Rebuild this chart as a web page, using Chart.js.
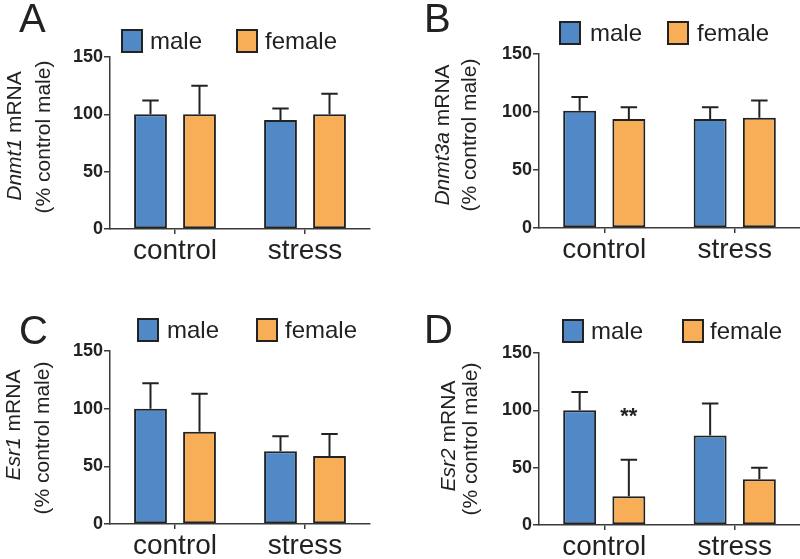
<!DOCTYPE html>
<html><head><meta charset="utf-8">
<script src="https://cdn.jsdelivr.net/npm/chart.js@4"></script>
<style>
body{margin:0;background:#fff;width:800px;height:559px;overflow:hidden;position:relative}
canvas{position:absolute}
</style></head><body>
<canvas id="cA" width="400" height="280" style="left:0;top:0"></canvas>
<canvas id="cB" width="400" height="280" style="left:400px;top:0"></canvas>
<canvas id="cC" width="400" height="279" style="left:0;top:280px"></canvas>
<canvas id="cD" width="400" height="279" style="left:400px;top:280px"></canvas>
<script>
// ---- data ----
const categories = ['control', 'stress'];
const seriesLabels = ['male', 'female'];
const yTicks = [0, 50, 100, 150];

const dnmt1Male = [100, 95];
const dnmt1Female = [100, 100];
const dnmt1MaleErr = [12, 10];
const dnmt1FemaleErr = [25, 18];

const dnmt3aMale = [101, 94];
const dnmt3aFemale = [94, 95];
const dnmt3aMaleErr = [12, 10];
const dnmt3aFemaleErr = [10, 15];

const esr1Male = [100, 63];
const esr1Female = [80, 59];
const esr1MaleErr = [22, 13];
const esr1FemaleErr = [33, 19];

const esr2Male = [100, 78];
const esr2Female = [25, 40];
const esr2MaleErr = [16, 28];
const esr2FemaleErr = [32, 10];

const esr2Stars = ['**', ''];   // annotation over female bars
const esr2StarValue = 98;

// ---- styles ----
const FONT = '"Liberation Sans", Arial, Helvetica, sans-serif';
const BLUE = '#5089c6';
const ORANGE = '#f8ad57';
const INK = '#222222';
const AXIS = '#3a3a3a';

const panels = [
  {id:'cA', letter:'A', gene:'Dnmt1', male:dnmt1Male, female:dnmt1Female, mErr:dnmt1MaleErr, fErr:dnmt1FemaleErr,
   area:{l:110, r:370, t:57, b:229}, letterPos:[19,32],
   title:{x1:15, y1:136, x2:44, y2:137},
   legend:{mBox:[122,30], mText:150, fBox:[237,30], fText:265}},
  {id:'cB', letter:'B', gene:'Dnmt3a', male:dnmt3aMale, female:dnmt3aFemale, mErr:dnmt3aMaleErr, fErr:dnmt3aFemaleErr,
   area:{l:139, r:400, t:54, b:228}, letterPos:[24,32],
   title:{x1:43, y1:135, x2:70, y2:135},
   legend:{mBox:[160,22], mText:190, fBox:[268,22], fText:297}},
  {id:'cC', letter:'C', gene:'Esr1', male:esr1Male, female:esr1Female, mErr:esr1MaleErr, fErr:esr1FemaleErr,
   area:{l:110, r:370, t:71, b:244}, letterPos:[19,64],
   title:{x1:14, y1:145, x2:43, y2:158},
   legend:{mBox:[138,39], mText:167, fBox:[257,39], fText:285}},
  {id:'cD', letter:'D', gene:'Esr2', male:esr2Male, female:esr2Female, mErr:esr2MaleErr, fErr:esr2FemaleErr,
   area:{l:139, r:400, t:73, b:245}, letterPos:[24,63],
   title:{x1:49, y1:156, x2:71, y2:159},
   legend:{mBox:[163,40], mText:191, fBox:[283,40], fText:310},
   stars:esr2Stars, starValue:esr2StarValue}
];

const decorPlugin = {
  id: 'decor',
  afterDatasetsDraw(chart, args, opts) {
    const ctx = chart.ctx;
    const y = chart.scales.y;
    // error bars
    ctx.save();
    ctx.strokeStyle = INK;
    ctx.lineWidth = 2;
    chart.data.datasets.forEach((ds, i) => {
      const meta = chart.getDatasetMeta(i);
      meta.data.forEach((bar, j) => {
        const top = y.getPixelForValue(ds.data[j] + ds.errors[j]);
        const half = bar.width / 4;
        ctx.beginPath();
        ctx.moveTo(bar.x, bar.y);
        ctx.lineTo(bar.x, top);
        ctx.moveTo(bar.x - half, top);
        ctx.lineTo(bar.x + half, top);
        ctx.stroke();
      });
    });
    // stars
    if (opts.stars) {
      const meta = chart.getDatasetMeta(1);
      ctx.fillStyle = INK;
      ctx.font = 'bold 22px ' + FONT;
      ctx.textAlign = 'center';
      ctx.textBaseline = 'middle';
      opts.stars.forEach((s, j) => {
        if (s) ctx.fillText(s, meta.data[j].x, y.getPixelForValue(opts.starValue) + 4);
      });
    }
    ctx.restore();
  },
  afterDraw(chart, args, opts) {
    const ctx = chart.ctx;
    ctx.save();
    // panel letter
    ctx.fillStyle = INK;
    ctx.font = '40px ' + FONT;
    ctx.textAlign = 'left';
    ctx.textBaseline = 'alphabetic';
    ctx.fillText(opts.letter, opts.letterPos[0], opts.letterPos[1]);
    // legend
    const lg = opts.legend;
    const ds = chart.data.datasets;
    [[lg.mBox, lg.mText, 0], [lg.fBox, lg.fText, 1]].forEach(([box, tx, i]) => {
      ctx.fillStyle = ds[i].backgroundColor;
      ctx.fillRect(box[0], box[1], 20, 22);
      ctx.strokeStyle = INK;
      ctx.lineWidth = 2;
      ctx.strokeRect(box[0], box[1], 20, 22);
      ctx.fillStyle = INK;
      ctx.font = '24px ' + FONT;
      ctx.textBaseline = 'middle';
      ctx.fillText(ds[i].label, tx, box[1] + 12);
    });
    // y-axis title
    const t = opts.title;
    ctx.fillStyle = INK;
    ctx.textBaseline = 'middle';
    ctx.textAlign = 'left';
    // line 1: italic gene + ' mRNA'
    ctx.save();
    ctx.translate(t.x1, t.y1);
    ctx.rotate(-Math.PI / 2);
    ctx.font = 'italic 21px ' + FONT;
    const w1 = ctx.measureText(opts.gene).width;
    ctx.font = '21px ' + FONT;
    const w2 = ctx.measureText(' mRNA').width;
    let x0 = -(w1 + w2) / 2;
    ctx.font = 'italic 21px ' + FONT;
    ctx.fillText(opts.gene, x0, 0);
    ctx.font = '21px ' + FONT;
    ctx.fillText(' mRNA', x0 + w1, 0);
    ctx.restore();
    ctx.save();
    ctx.translate(t.x2, t.y2);
    ctx.rotate(-Math.PI / 2);
    ctx.font = '21px ' + FONT;
    ctx.textAlign = 'center';
    ctx.fillText('(% control male)', 0, 0);
    ctx.restore();
    ctx.restore();
  }
};

panels.forEach(p => {
  const canvas = document.getElementById(p.id);
  const W = canvas.width, H = canvas.height;
  new Chart(canvas, {
    type: 'bar',
    data: {
      labels: categories,
      datasets: [
        {label: seriesLabels[0], data: p.male, errors: p.mErr, backgroundColor: BLUE},
        {label: seriesLabels[1], data: p.female, errors: p.fErr, backgroundColor: ORANGE}
      ]
    },
    options: {
      responsive: false,
      animation: false,
      devicePixelRatio: 1,
      layout: {padding: {top: p.area.t, left: 0, right: W - p.area.r, bottom: 0}},
      datasets: {
        bar: {
          borderColor: INK, borderWidth: 2, borderSkipped: false,
          categoryPercentage: 0.754, barPercentage: 0.67
        }
      },
      plugins: {
        legend: {display: false},
        tooltip: {enabled: false},
        decor: {letter: p.letter, letterPos: p.letterPos, gene: p.gene, title: p.title,
                legend: p.legend, stars: p.stars, starValue: p.starValue}
      },
      scales: {
        x: {
          afterFit(s) { s.height = H - p.area.b; },
          grid: {drawOnChartArea: false, drawTicks: true, tickLength: 5, offset: false, color: AXIS, lineWidth: 1.5},
          border: {display: true, color: AXIS, width: 1.5},
          ticks: {color: INK, font: {family: FONT, size: 28}, padding: 0, maxRotation: 0}
        },
        y: {
          min: 0, max: 150,
          afterFit(s) { s.width = p.area.l; },
          afterBuildTicks(s) { s.ticks = yTicks.map(v => ({value: v})); },
          grid: {drawOnChartArea: false, drawTicks: true, tickLength: 6, color: AXIS, lineWidth: 1.5},
          border: {display: true, color: AXIS, width: 1.5},
          ticks: {color: INK, font: {family: FONT, size: 18, weight: 'bold'}, padding: 1}
        }
      }
    },
    plugins: [decorPlugin]
  });
});
</script>
</body></html>
